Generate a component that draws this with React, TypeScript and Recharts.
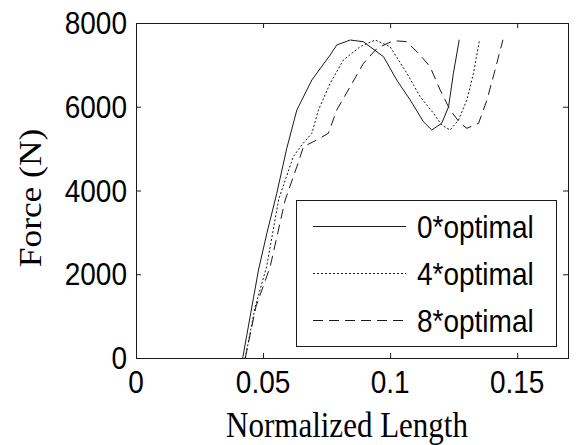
import React from 'react';
import { LineChart, Line, XAxis, YAxis } from 'recharts';

// tick values and labels
const xTicks = [0, 0.05, 0.1, 0.15];
const xTickLabels = ['0', '0.05', '0.1', '0.15'];
const yTicks = [0, 2000, 4000, 6000, 8000];
const yTickLabels = ['0', '2000', '4000', '6000', '8000'];
const X_DOMAIN = [0, 0.17];
const Y_DOMAIN = [0, 8000];

// 0*optimal (solid)
const len0 = [0.042, 0.0449, 0.0482, 0.0515, 0.0554, 0.0593, 0.0633, 0.0692, 0.0764, 0.079, 0.0843, 0.0894, 0.0974, 0.1026, 0.1079, 0.1131, 0.1164, 0.1203, 0.123, 0.1249, 0.1272];
const force0 = [0, 986, 2101, 2978, 3933, 5000, 5922, 6639, 7236, 7475, 7594, 7554, 7195, 6639, 6161, 5643, 5445, 5604, 6001, 6799, 7600];

// 4*optimal (dotted)
const len4 = [0.043, 0.0469, 0.0514, 0.0562, 0.0619, 0.0652, 0.0692, 0.0718, 0.0764, 0.0816, 0.0882, 0.0941, 0.1, 0.1066, 0.1118, 0.1171, 0.1203, 0.1236, 0.1269, 0.1302, 0.1328, 0.1352];
const force4 = [0, 1225, 2181, 3800, 4808, 5087, 5366, 5922, 6560, 7116, 7434, 7594, 7434, 6799, 6240, 5843, 5564, 5445, 5683, 6161, 6799, 7600];

// 8*optimal (dashed)
const len8 = [0.043, 0.0472, 0.0528, 0.0587, 0.0633, 0.0659, 0.0711, 0.0757, 0.079, 0.0843, 0.0895, 0.0948, 0.1013, 0.1066, 0.1118, 0.1157, 0.1197, 0.1236, 0.1276, 0.1302, 0.1348, 0.1381, 0.1413, 0.1444];
const force8 = [0, 1225, 2181, 3773, 4569, 5046, 5206, 5366, 5922, 6480, 7037, 7395, 7578, 7554, 7236, 6958, 6400, 5922, 5604, 5485, 5604, 6161, 6878, 7600];

const seriesNames = ['0*optimal', '4*optimal', '8*optimal'];
const seriesDash = ['0', '2 2', '10 6'];

const toPoints = (xs: number[], ys: number[]) => xs.map((x, i) => ({ x, y: ys[i] }));
const series = [toPoints(len0, force0), toPoints(len4, force4), toPoints(len8, force8)];

const W = 576;
const H = 445;
const MARGIN = { top: 23, right: 8, bottom: 0, left: 0 };
const Y_AXIS_W = 136;
const X_AXIS_H = 87;
// plot box, same as what recharts lays out from the margins above
const BOX = {
  left: MARGIN.left + Y_AXIS_W,
  top: MARGIN.top,
  right: W - MARGIN.right,
  bottom: H - MARGIN.bottom - X_AXIS_H,
};
const sx = (v: number) => BOX.left + ((v - X_DOMAIN[0]) / (X_DOMAIN[1] - X_DOMAIN[0])) * (BOX.right - BOX.left);
const sy = (v: number) => BOX.bottom - ((v - Y_DOMAIN[0]) / (Y_DOMAIN[1] - Y_DOMAIN[0])) * (BOX.bottom - BOX.top);

const INK = '#1a1a1a';
const TICK_FONT = 'Arial, "Liberation Sans", sans-serif';
const LABEL_FONT = '"Times New Roman", "Liberation Serif", serif';
const TICK_LEN = 5;
const STRETCH = 1.14; // the source figure is a bit taller than wide

// text drawn with a slight vertical stretch, anchored at its baseline
const Tall = ({ x, y, anchor = 'start', size = 28, family = TICK_FONT, children }: any) => (
  <text
    transform={`translate(${x} ${y}) scale(1 ${STRETCH})`}
    textAnchor={anchor}
    fontSize={size}
    fontFamily={family}
    fill="#000"
  >
    {children}
  </text>
);

const BottomTick = (props: any) => {
  const { x, y, index } = props;
  return <Tall x={x} y={y + 35} anchor="middle">{xTickLabels[index]}</Tall>;
};

const LeftTick = (props: any) => {
  const { x, y, index } = props;
  return <Tall x={x - 9} y={y + 11} anchor="end">{yTickLabels[index]}</Tall>;
};

// MATLAB-style box with inward ticks on all four sides, axis labels and legend
const Overlay = () => (
  <svg width={W} height={H} style={{ position: 'absolute', left: 0, top: 0, pointerEvents: 'none' }}>
    <rect
      x={BOX.left + 0.5}
      y={BOX.top + 0.5}
      width={BOX.right - BOX.left}
      height={BOX.bottom - BOX.top}
      fill="none"
      stroke={INK}
    />
    {xTicks.map((t) => (
      <g key={`xt${t}`}>
        <line x1={sx(t) + 0.5} x2={sx(t) + 0.5} y1={BOX.bottom} y2={BOX.bottom - TICK_LEN} stroke={INK} />
        <line x1={sx(t) + 0.5} x2={sx(t) + 0.5} y1={BOX.top} y2={BOX.top + TICK_LEN} stroke={INK} />
      </g>
    ))}
    {yTicks.map((t) => (
      <g key={`yt${t}`}>
        <line x1={BOX.left} x2={BOX.left + TICK_LEN} y1={sy(t) + 0.5} y2={sy(t) + 0.5} stroke={INK} />
        <line x1={BOX.right - TICK_LEN} x2={BOX.right} y1={sy(t) + 0.5} y2={sy(t) + 0.5} stroke={INK} />
      </g>
    ))}
    <text
      transform={`translate(30 198) rotate(-90) scale(${STRETCH} 1)`}
      textAnchor="middle"
      dominantBaseline="central"
      fontSize={31}
      fontFamily={LABEL_FONT}
      fill="#000"
    >
      Force (N)
    </text>
    <Tall x={347} y={437} anchor="middle" size={31} family={LABEL_FONT}>Normalized Length</Tall>
    <rect x={296.5} y={200.5} width={260} height={146} fill="#fff" stroke={INK} />
    {seriesNames.map((name, i) => {
      const cy = 226.5 + i * 47;
      return (
        <g key={name}>
          <line x1={313} x2={406} y1={cy} y2={cy} stroke={INK} strokeDasharray={seriesDash[i]} />
          <Tall x={417} y={cy + 11}>{name}</Tall>
        </g>
      );
    })}
  </svg>
);

export default function App() {
  return (
    <div style={{ position: 'absolute', left: 0, top: 0, width: W, height: H, background: '#fff' }}>
      <LineChart width={W} height={H} margin={MARGIN}>
        <XAxis
          dataKey="x"
          type="number"
          domain={X_DOMAIN}
          ticks={xTicks}
          allowDataOverflow
          height={X_AXIS_H}
          tickSize={0}
          tickMargin={0}
          tickLine={false}
          tick={<BottomTick />}
          axisLine={false}
        />
        <YAxis
          dataKey="y"
          type="number"
          domain={Y_DOMAIN}
          ticks={yTicks}
          allowDataOverflow
          width={Y_AXIS_W}
          tickSize={0}
          tickMargin={0}
          tickLine={false}
          tick={<LeftTick />}
          axisLine={false}
        />
        {series.map((pts, i) => (
          <Line
            key={seriesNames[i]}
            data={pts}
            dataKey="y"
            name={seriesNames[i]}
            type="linear"
            stroke={INK}
            strokeWidth={1}
            strokeDasharray={seriesDash[i]}
            dot={false}
            activeDot={false}
            isAnimationActive={false}
          />
        ))}
      </LineChart>
      <Overlay />
    </div>
  );
}
